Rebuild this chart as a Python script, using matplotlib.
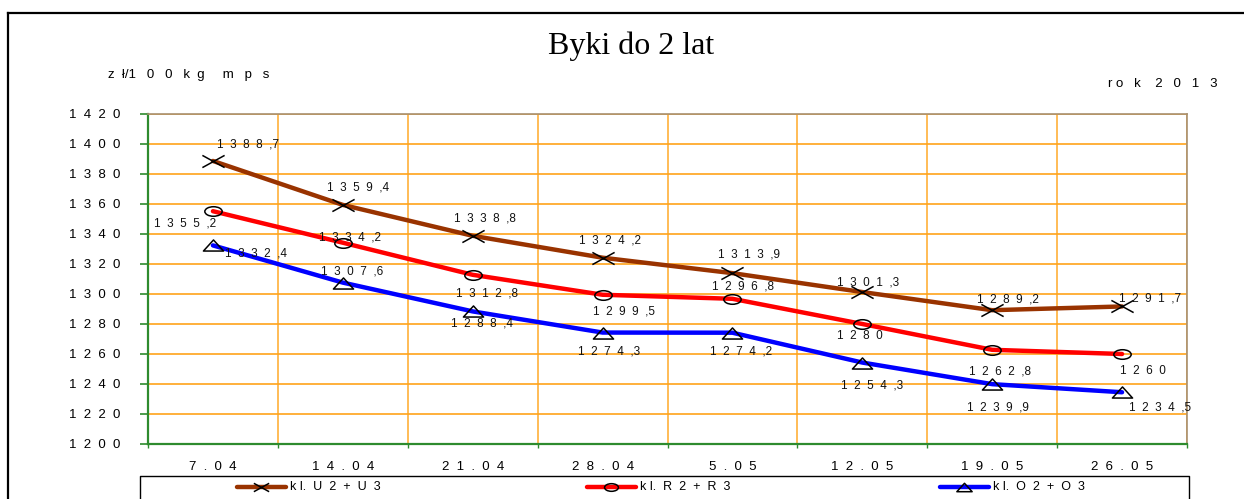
import numpy as np
import matplotlib
matplotlib.use('Agg')
import matplotlib.pyplot as plt
from matplotlib.path import Path
from matplotlib.lines import Line2D

plt.rcParams['font.family'] = ['Liberation Sans', 'DejaVu Sans']

# data
dates = ['7.04', '14.04', '21.04', '28.04', '5.05', '12.05', '19.05', '26.05']
kl_u = [1388.7, 1359.4, 1338.8, 1324.2, 1313.9, 1301.3, 1289.2, 1291.7]
kl_r = [1355.2, 1334.2, 1312.8, 1299.5, 1296.8, 1280.0, 1262.8, 1260.0]
kl_o = [1332.4, 1307.6, 1288.4, 1274.3, 1274.2, 1254.3, 1239.9, 1234.5]
series_names = ['kl. U2+U3', 'kl. R2+R3', 'kl. O2+O3']
y_ticks = list(range(1200, 1421, 20))

# label offsets in pixels (dx right, dy down)
off_u = [(35, -16), (15, -17), (12, -17), (7, -17), (17, -19), (6, -10), (16, -11), (28, -8)]
off_r = [(-28, 12), (7, -5), (14, 19), (21, 17), (11, -12), (-2, 12), (8, 22), (21, 17)]
off_o = [(43, 8), (9, -11), (9, 12), (6, 19), (9, 19), (10, 23), (6, 23), (38, 15)]

W, H = 1244, 499


def spaced(s, gap='  '):
    return gap.join(list(s))


def fmt(v):
    s = f'{v:.1f}'
    whole, dec = s.split('.')
    if dec == '0':
        return spaced(whole)
    return spaced(whole) + '  ,' + dec


# marker shapes (flattened like the original)
m_x = Path([(-1, -0.55), (1, 0.55), (-1, 0.55), (1, -0.55)],
           [Path.MOVETO, Path.LINETO, Path.MOVETO, Path.LINETO])
circ = Path.unit_circle()
m_o = Path(circ.vertices * np.array([1.0, 0.55]), circ.codes)
m_t = Path([(-1, -0.55), (1, -0.55), (0, 0.55), (-1, -0.55)],
           [Path.MOVETO, Path.LINETO, Path.LINETO, Path.CLOSEPOLY])

fig = plt.figure(figsize=(W / 100, H / 100), dpi=100)
ax = fig.add_axes([148 / W, 1 - 444 / H, (1187 - 148) / W, (444 - 114) / H])

x = np.arange(len(dates))
ax.set_xlim(-0.5, len(dates) - 0.5)
ax.set_ylim(1200, 1420)

ax.set_yticks(y_ticks)
ax.set_yticklabels([spaced(str(t)) for t in y_ticks], fontsize=9.5)
ax.set_xticks(x)
ax.set_xticklabels([spaced(d) for d in dates], fontsize=9.5)
ax.set_xticks(np.arange(-0.5, len(dates)), minor=True)
ax.tick_params(axis='y', which='major', direction='out', length=6, width=1.2,
               color='#2e8b2e', pad=14)
ax.tick_params(axis='x', which='major', length=0, pad=12)
ax.tick_params(axis='x', which='minor', direction='out', length=3, width=1,
               color='#2e8b2e')

ax.grid(True, axis='y', which='major', color='#ffa31a', lw=1.2)
ax.grid(True, axis='x', which='minor', color='#ffb03a', lw=1.2)
ax.set_axisbelow(True)

for side in ['left', 'bottom']:
    ax.spines[side].set_color('#2e8b2e')
    ax.spines[side].set_linewidth(1.6)
for side in ['top', 'right']:
    ax.spines[side].set_color('#a89070')
    ax.spines[side].set_linewidth(1.2)

styles = [
    (kl_u, '#993300', m_x, 16, off_u),
    (kl_r, '#ff0000', m_o, 12.5, off_r),
    (kl_o, '#0000ff', m_t, 14.5, off_o),
]

for vals, col, mk, ms, offs in styles:
    ax.plot(x, vals, color=col, lw=3.2, solid_capstyle='round',
            solid_joinstyle='round', zorder=3)
    ax.plot(x, vals, linestyle='none', marker=mk, markersize=ms,
            markerfacecolor='none', markeredgecolor='black',
            markeredgewidth=1.1, zorder=4, clip_on=False)
    for xi, v, (dx, dy) in zip(x, vals, offs):
        ax.annotate(fmt(v), (xi, v), xytext=(dx, -dy), textcoords='offset pixels',
                    ha='center', va='center', fontsize=8.5, color='#111111',
                    zorder=5, annotation_clip=False)

# titles and side texts
fig.text(631 / W, 1 - 54 / H, 'Byki do 2 lat', family=['Liberation Serif', 'DejaVu Serif'],
         fontsize=23, ha='center', va='baseline')
fig.text(108 / W, 1 - 75 / H, 'z  ł/1   0   0   k  g     m   p   s', fontsize=9.5,
         ha='left', va='center')
fig.text(1218 / W, 1 - 84 / H, 'r o   k    2   0   1   3', fontsize=9.5,
         ha='right', va='center')

# outer frame (top and left visible)
fig.add_artist(Line2D([8 / W, 1], [1 - 13 / H, 1 - 13 / H], color='black', lw=1.6,
                      transform=fig.transFigure))
fig.add_artist(Line2D([8 / W, 8 / W], [0, 1 - 13 / H], color='black', lw=1.6,
                      transform=fig.transFigure))

# legend box, running off the bottom edge
ly = 1 - 476 / H
fig.add_artist(Line2D([140 / W, 140 / W, 1189 / W, 1189 / W], [0, ly, ly, 0],
                      color='black', lw=1.0, transform=fig.transFigure))
leg_x = [237, 587, 940]
leg_ms = [11, 10, 11]
yy = 1 - 487 / H
for (vals, col, mk, ms, offs), name, lx, lms in zip(styles, series_names, leg_x, leg_ms):
    fig.add_artist(Line2D([lx / W, (lx + 49) / W], [yy, yy], color=col, lw=3.2,
                          solid_capstyle='round', transform=fig.transFigure))
    fig.add_artist(Line2D([(lx + 24) / W], [yy], linestyle='none', marker=mk,
                          markersize=lms, markerfacecolor='none',
                          markeredgecolor='black', markeredgewidth=1.1,
                          transform=fig.transFigure))
    code = name.split(' ')[1]
    txt = 'k l.  ' + spaced(code, '  ')
    fig.text((lx + 53) / W, yy, txt, fontsize=9, ha='left', va='center')

fig.savefig('out.png', dpi=100)
